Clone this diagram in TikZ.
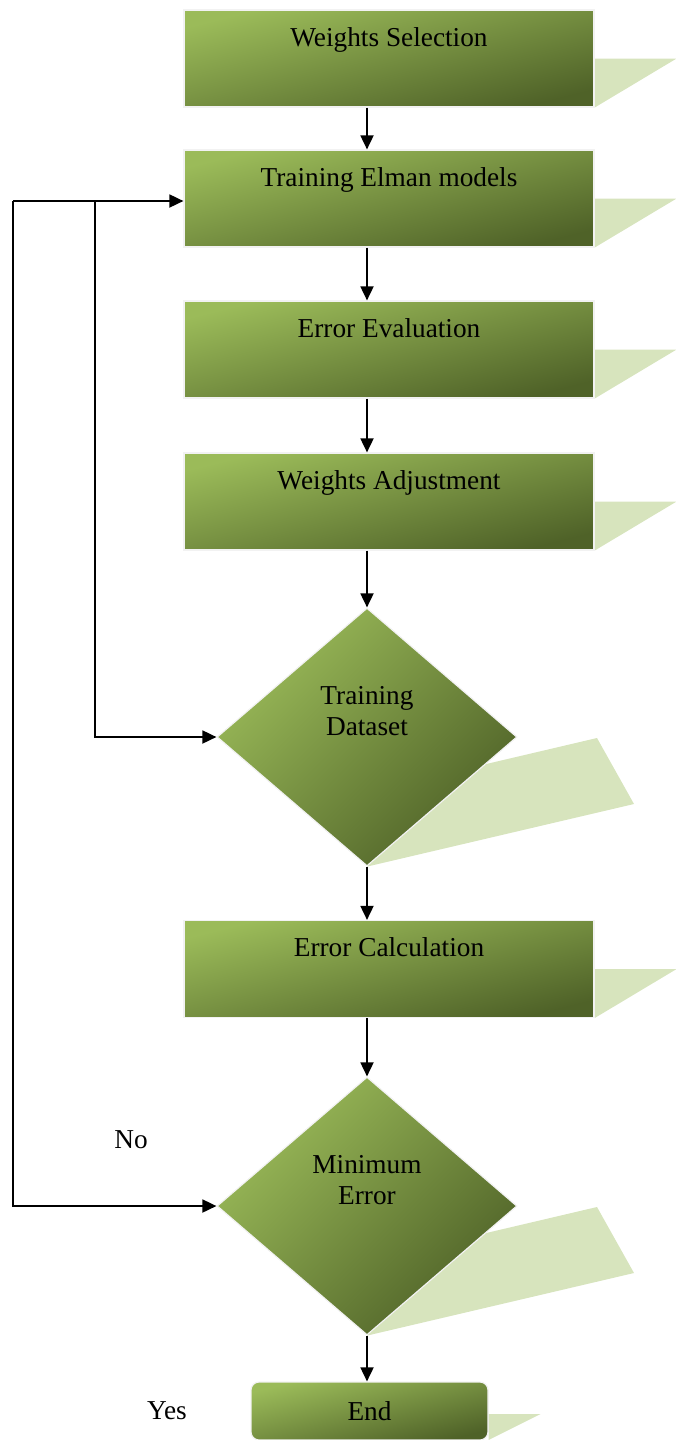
\documentclass[tikz,border=0pt]{standalone}
\usepackage{fontspec}
\setmainfont{Liberation Serif}
\usetikzlibrary{arrows.meta,shapes.geometric,backgrounds}

\definecolor{grnlight}{RGB}{155,187,89}
\definecolor{grndark}{RGB}{79,98,40}
\definecolor{grnshadow}{RGB}{215,228,189}

\begin{document}
\begin{tikzpicture}[x=1pt,y=-1pt]
\tikzset{
  stepbox/.style={rectangle,draw=gray!10,line width=1.2pt,top color=grnlight,bottom color=grndark,shading angle=14,
    minimum width=410pt,inner sep=0pt,text height=36pt,text depth=61pt,font=\fontsize{27.3}{32}\selectfont},
  endbox/.style={stepbox,rounded corners=8pt,minimum width=237pt,text height=38pt,text depth=20pt},
  decision/.style={diamond,draw=gray!10,line width=1.2pt,top color=grnlight,bottom color=grndark,shading angle=45,
    minimum width=300pt,minimum height=258pt,inner sep=0pt},
  dlabel/.style={align=center,yshift=26pt,font=\fontsize{27.3}{31}\selectfont},
  plain/.style={font=\fontsize{27.3}{32}\selectfont},
  flow/.style={-{Triangle[length=14pt,width=13pt]},line width=1.8pt},
  shadowfill/.style={fill=grnshadow,draw=none}
}
\useasboundingbox (0,0) rectangle (676,1440);

% steps
\node[stepbox] (ws) at (389,58.5) {Weights Selection};
\node[stepbox] (te) at (389,198.5) {Training Elman models};
\node[stepbox] (ee) at (389,349.5) {Error Evaluation};
\node[stepbox] (wa) at (389,501.5) {Weights Adjustment};
\node[decision,label={[dlabel]center:{Training\\Dataset}}] (td) at (367,737) {};
\node[stepbox] (ec) at (389,969) {Error Calculation};
\node[decision,label={[dlabel]center:{Minimum\\Error}}] (me) at (367,1206) {};
\node[endbox] (en) at (369.5,1411) {End};

\node[plain] (no) at (131,1140) {No};
\node[plain] (yes) at (167,1411) {Yes};

% shadows behind
\begin{scope}[on background layer]
\foreach \b in {ws,te,ee,wa,ec}
  \fill[shadowfill] (\b.east) -- ++(82,0) -- (\b.south east) -- cycle;
\fill[shadowfill] (td.center) ++(0,55) -- ++(230,-54) -- ++(37,66) -- (td.south) -- cycle;
\fill[shadowfill] (me.center) ++(0,55) -- ++(230,-54) -- ++(37,66) -- (me.south) -- cycle;
\fill[shadowfill] (en.east) ++(0,3) -- ++(52,0) -- ++(-52,26) -- cycle;
\end{scope}

% connectors
\draw[flow] (ws.south -| td.north) -- (te.north -| td.north);
\draw[flow] (te.south -| td.north) -- (ee.north -| td.north);
\draw[flow] (ee.south -| td.north) -- (wa.north -| td.north);
\draw[flow] (wa.south -| td.north) -- (td.north);
\draw[flow] (td.south) -- (ec.north -| td.south);
\draw[flow] (ec.south -| td.south) -- (me.north);
\draw[flow] (me.south) -- (en.north -| me.south);

\coordinate (loop) at (13,201);
\coordinate (split) at (95,201);
\draw[flow] (loop) -- (te.west |- loop);
\draw[flow] (loop) |- (me.west);
\draw[flow] (split) |- (td.west);
\end{tikzpicture}
\end{document}
